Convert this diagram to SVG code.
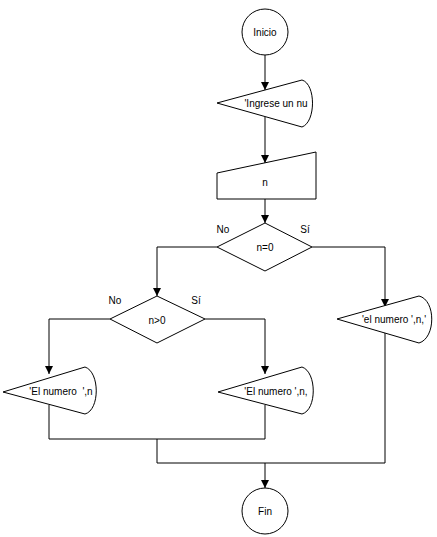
<svg xmlns="http://www.w3.org/2000/svg" width="437" height="537" viewBox="0 0 437 537">
<defs>
<marker id="ah" markerWidth="8" markerHeight="8" refX="8" refY="4" orient="auto" markerUnits="userSpaceOnUse">
<path d="M0,0 L8,4 L0,8 Z" fill="#000"/>
</marker>
</defs>
<style>
.s{fill:#fff;stroke:#000;stroke-width:1}
.c{fill:none;stroke:#000;stroke-width:1}
text{font-family:"Liberation Sans",Arial,sans-serif;font-size:10px;fill:#000;text-anchor:middle;dominant-baseline:central;white-space:pre}
</style>
<rect width="437" height="537" fill="#fff"/>
<g id="connectors">
<path class="c" d="M265,55 V90" marker-end="url(#ah)"/>
<path class="c" d="M265,117 V163" marker-end="url(#ah)"/>
<path class="c" d="M265,199 V223" marker-end="url(#ah)"/>
<path class="c" d="M217,247 H157 V296" marker-end="url(#ah)"/>
<path class="c" d="M312,247 H385 V307" marker-end="url(#ah)"/>
<path class="c" d="M110,319 H49 V374" marker-end="url(#ah)"/>
<path class="c" d="M205,319 H265 V374" marker-end="url(#ah)"/>
<path class="c" d="M49,405 V439 H265 V405"/>
<path class="c" d="M385,332 V463 H157 V439"/>
<path class="c" d="M265,463 V488" marker-end="url(#ah)"/>
</g>
<g id="inicio"><circle class="s" cx="265" cy="32" r="23"/><text x="265" y="32">Inicio</text></g>
<g id="display1"><path class="s" d="M217,103 L302,80 C316,84 316,122 302,127 Z"/><text x="276" y="103">'Ingrese un nu</text></g>
<g id="input_n"><path class="s" d="M217,173 L316,152 V199 H217 Z"/><text x="265" y="182">n</text></g>
<g id="dec1"><path class="s" d="M265,223 L312,247 L265,271 L217,247 Z"/><text x="265" y="247">n=0</text><text x="223" y="229">No</text><text x="305" y="229">Sí</text></g>
<g id="dec2"><path class="s" d="M157,296 L205,319 L157,343 L110,319 Z"/><text x="157" y="320">n&gt;0</text><text x="115" y="300">No</text><text x="196" y="300">Sí</text></g>
<g id="display3"><path class="s" d="M337,319 L419,296 C436,300 436,338 419,343 Z"/><text x="394" y="319">'el numero ',n,'</text></g>
<g id="display4"><path class="s" d="M3,392 L85,367 C100,372 100,410 85,414 Z"/><text x="61" y="391" xml:space="preserve">'El numero  ',n</text></g>
<g id="display5"><path class="s" d="M218,392 L302,367 C317,372 317,410 302,414 Z"/><text x="276" y="391">'El numero ',n,</text></g>
<g id="fin"><circle class="s" cx="265" cy="511" r="23"/><text x="265" y="511">Fin</text></g>
</svg>
